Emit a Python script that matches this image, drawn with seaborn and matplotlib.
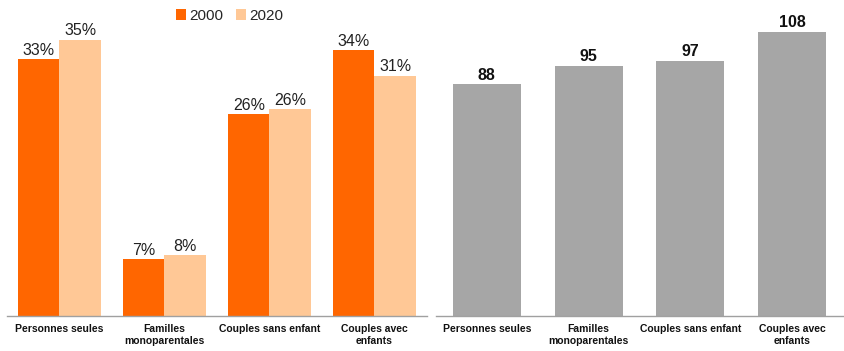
import pandas as pd
import numpy as np
import matplotlib
matplotlib.use("Agg")
import matplotlib.pyplot as plt
import seaborn as sns

categories = ["Personnes seules", "Familles\nmonoparentales", "Couples sans enfant", "Couples avec\nenfants"]
share_2000 = [32.9, 7.3, 25.9, 34.1]
share_2020 = [35.4, 7.8, 26.5, 30.8]
index_values = [88, 95, 97, 108]

sns.set_style("white")
plt.rcParams["font.family"] = ["Liberation Sans", "DejaVu Sans"]

df = pd.DataFrame({
    "cat": categories * 2,
    "year": ["2000"] * 4 + ["2020"] * 4,
    "val": share_2000 + share_2020,
})
df_idx = pd.DataFrame({"cat": categories, "val": index_values})

fig = plt.figure(figsize=(8.45, 3.51), dpi=100)
ax1 = fig.add_axes([7 / 845, 35 / 351, 420 / 845, 316 / 351])
ax2 = fig.add_axes([436 / 845, 35 / 351, 407 / 845, 316 / 351])

sns.barplot(data=df, x="cat", y="val", hue="year", palette=["#FF6600", "#FFC896"],
            width=0.79, gap=0, saturation=1, linewidth=0, ax=ax1)
sns.barplot(data=df_idx, x="cat", y="val", color="#A6A6A6", width=0.67,
            saturation=1, linewidth=0, ax=ax2)

for c in ax1.containers:
    ax1.bar_label(c, labels=[f"{v:.0f}%" for v in c.datavalues], fontsize=11.5,
                  color="#222222", padding=1)
for c in ax2.containers:
    ax2.bar_label(c, labels=[f"{v:.0f}" for v in c.datavalues], fontsize=11.5,
                  fontweight="bold", color="#111111", padding=1)

ax1.set_ylim(0, 40.5)
ax2.set_ylim(0, 120)

for ax in (ax1, ax2):
    ax.set_xlim(-0.5, 3.5)
    ax.set_xlabel("")
    ax.set_ylabel("")
    ax.set_yticks([])
    for s in ("top", "left", "right"):
        ax.spines[s].set_visible(False)
    ax.spines["bottom"].set_color("#A0A0A0")
    ax.spines["bottom"].set_linewidth(1)
    ax.set_xticks(range(4))
    ax.set_xticklabels(categories, fontsize=7.5, fontweight="bold", color="#111111",
                       linespacing=1.15)
    ax.set_xticks(np.arange(-0.5, 4, 1), minor=True)
    ax.tick_params(axis="x", which="major", length=0, pad=6)
    ax.tick_params(axis="x", which="minor", length=5, color="#A0A0A0", width=1,
                   direction="out")

leg = ax1.legend(loc="upper center", bbox_to_anchor=(0.53, 1.015), ncol=2, frameon=False,
                 fontsize=11, handlelength=0.7, handleheight=0.7, handletextpad=0.2,
                 columnspacing=0.8)

fig.savefig("out.png", dpi=100)
